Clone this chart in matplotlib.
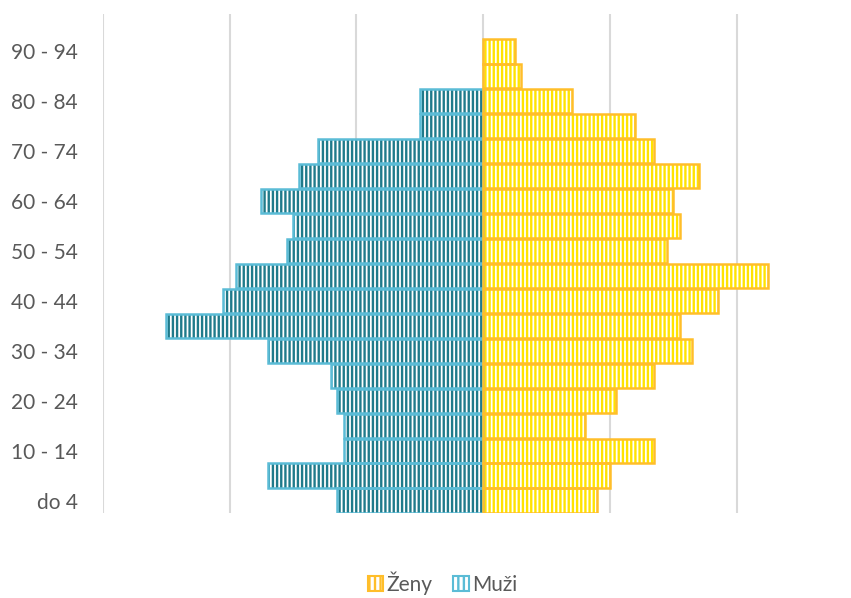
import matplotlib
matplotlib.use("Agg")
import matplotlib.pyplot as plt
from matplotlib.patches import Patch
import numpy as np

categories = ["do 4", "5 - 9", "10 - 14", "15 - 19", "20 - 24", "25 - 29", "30 - 34",
              "35 - 39", "40 - 44", "45 - 49", "50 - 54", "55 - 59", "60 - 64",
              "65 - 69", "70 - 74", "75 - 79", "80 - 84", "85 - 89", "90 - 94"]
zeny = [18, 20, 27, 16, 21, 27, 33, 31, 37, 45, 29, 31, 30, 34, 27, 24, 14, 6, 5]
muzi = [23, 34, 22, 22, 23, 24, 34, 50, 41, 39, 31, 30, 35, 29, 26, 10, 10, 0, 0]

plt.rcParams['font.family'] = ['Lato', 'DejaVu Sans']
plt.rcParams['hatch.linewidth'] = 1.7

W, H = 851, 598
fig = plt.figure(figsize=(W / 100, H / 100), dpi=100)
ax = fig.add_axes([103 / W, (H - 513) / H, (800 - 103) / W, (513 - 14) / H])

y = np.arange(len(categories))
teal_hatch = "#1f7a8a"
teal_edge = "#5bbcd6"
yel_hatch = "#ffe300"
yel_edge = "#ffbe2a"
bh = 0.97

m = -np.array(muzi, dtype=float)
z = np.array(zeny, dtype=float)
mm = m != 0
zm = z != 0

ax.barh(y[mm], m[mm], height=bh, color="white", edgecolor=teal_hatch, hatch="||||", linewidth=0, zorder=2)
ax.barh(y[mm], m[mm], height=bh, fill=False, edgecolor=teal_edge, linewidth=1.8, zorder=3)
ax.barh(y[zm], z[zm], height=bh, color="white", edgecolor=yel_hatch, hatch="||||", linewidth=0, zorder=2)
ax.barh(y[zm], z[zm], height=bh, fill=False, edgecolor=yel_edge, linewidth=1.8, zorder=3)

ax.set_xlim(-60, 50)
ax.set_ylim(-0.5, len(categories) + 0.5)
ax.set_xticks([-60, -40, -20, 0, 20, 40])
ax.grid(axis="x", color="#d9d9d9", linewidth=1.5, zorder=0)
ax.set_axisbelow(True)
ax.tick_params(axis="x", length=0, labelbottom=False)
ax.set_yticks(y[::2])
ax.set_yticklabels(categories[::2], fontsize=15, color="#595959")
ax.tick_params(axis="y", length=0, pad=18)
for s in ax.spines.values():
    s.set_visible(False)

handles = [Patch(facecolor="white", edgecolor=yel_hatch, hatch="|||", linewidth=0),
           Patch(facecolor="white", edgecolor=teal_hatch, hatch="|||", linewidth=0)]
leg = fig.legend(handles, ["Ženy", "Muži"], loc="center", bbox_to_anchor=(0.52, 15 / H),
                 ncol=2, frameon=False, fontsize=15, handlelength=0.75, handleheight=0.75,
                 handletextpad=0.15, columnspacing=1.0, labelcolor="#595959")
for h, ec in zip(leg.legend_handles, [yel_edge, teal_edge]):
    h.set_linewidth(1.5)
    h.set_edgecolor(ec)

fig.savefig("out.png", dpi=100)
